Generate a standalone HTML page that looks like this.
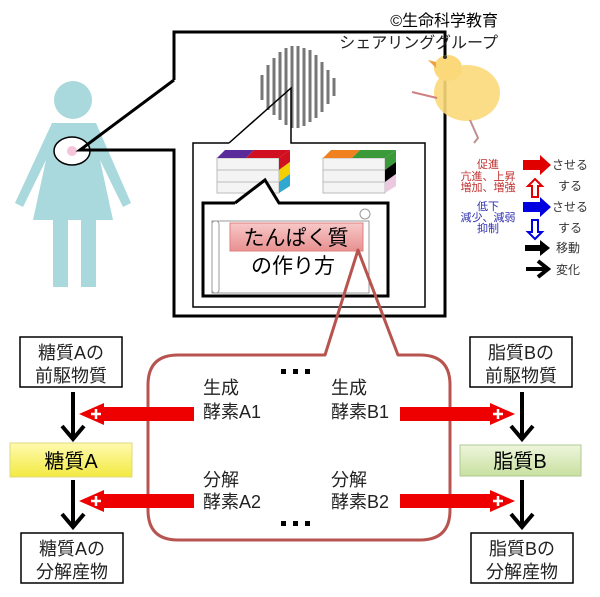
<!DOCTYPE html>
<html><head><meta charset="utf-8"><style>
html,body{margin:0;padding:0;background:#fff;}
svg{display:block;font-family:"Liberation Sans","Noto Sans CJK JP",sans-serif;}
</style></head><body>
<svg width="600" height="597" viewBox="0 0 600 597" xmlns="http://www.w3.org/2000/svg">
<defs>
<linearGradient id="yel" x1="0" y1="0" x2="0" y2="1"><stop offset="0" stop-color="#fffab0"/><stop offset="1" stop-color="#f2ea40"/></linearGradient>
<linearGradient id="grn" x1="0" y1="0" x2="0" y2="1"><stop offset="0" stop-color="#eef6dc"/><stop offset="1" stop-color="#c8e0a0"/></linearGradient>
<linearGradient id="pnk" x1="0" y1="0" x2="0" y2="1"><stop offset="0" stop-color="#f8c8c8"/><stop offset="1" stop-color="#e89090"/></linearGradient>
</defs>
<!-- person -->
<g fill="#a9d9dc">
<circle cx="73" cy="100" r="19"/>
<path d="M52 123 L96 123 L131 203 L123 207 L100 160 L113 220 L33 220 L46 160 L23 207 L15 203 Z"/>
<rect x="53" y="218" width="15" height="69"/>
<rect x="81" y="218" width="15" height="69"/>
</g>
<ellipse cx="72" cy="151" rx="18" ry="14" fill="#fff" stroke="#000" stroke-width="1.5"/>
<circle cx="72" cy="151" r="5" fill="#f4c4d8"/>
<!-- outer callout -->
<path d="M174 80 L174 32 L445 32 L445 316 L174 316 L174 150 L80 150 L174 80" fill="none" stroke="#000" stroke-width="3"/>
<!-- dna blob -->
<g stroke="#777" stroke-width="3">
<line x1="262" y1="75" x2="262" y2="100"/><line x1="268" y1="65" x2="268" y2="110"/><line x1="274" y1="58" x2="274" y2="115"/>
<line x1="280" y1="52" x2="280" y2="120"/><line x1="286" y1="48" x2="286" y2="125"/><line x1="292" y1="46" x2="292" y2="128"/>
<line x1="298" y1="46" x2="298" y2="128"/><line x1="304" y1="48" x2="304" y2="126"/><line x1="310" y1="50" x2="310" y2="122"/>
<line x1="316" y1="55" x2="316" y2="118"/><line x1="322" y1="62" x2="322" y2="112"/><line x1="328" y1="70" x2="328" y2="104"/>
<line x1="334" y1="78" x2="334" y2="96"/>
</g>
<!-- middle box -->
<path d="M229 143 L193 143 L193 307 L425 307 L425 143 L291 143 L291 88 L229 143" fill="none" stroke="#000" stroke-width="1.5"/>
<!-- books left -->
<g>
<rect x="217" y="158" width="62" height="35" fill="#f4f4f4" stroke="#bbb"/>
<line x1="217" y1="170" x2="279" y2="170" stroke="#bbb"/><line x1="217" y1="182" x2="279" y2="182" stroke="#bbb"/>
<path d="M217 158 L225 150 L254 150 L246 158 Z" fill="#5a2a9a"/>
<path d="M246 158 L254 150 L290 150 L279 158 Z" fill="#d01020"/>
<path d="M279 158 L290 150 L290 162 L279 170 Z" fill="#d01020"/>
<path d="M279 170 L290 162 L290 174 L279 182 Z" fill="#f4d000"/>
<path d="M279 182 L290 174 L290 186 L279 193 Z" fill="#30a8d0"/>
</g>
<g>
<rect x="323" y="158" width="62" height="35" fill="#f4f4f4" stroke="#bbb"/>
<line x1="323" y1="170" x2="385" y2="170" stroke="#bbb"/><line x1="323" y1="182" x2="385" y2="182" stroke="#bbb"/>
<path d="M323 158 L331 150 L360 150 L352 158 Z" fill="#f08020"/>
<path d="M352 158 L360 150 L396 150 L385 158 Z" fill="#3a9a3a"/>
<path d="M385 158 L396 150 L396 162 L385 170 Z" fill="#3a9a3a"/>
<path d="M385 170 L396 162 L396 174 L385 182 Z" fill="#000"/>
<path d="M385 182 L396 174 L396 186 L385 193 Z" fill="#ecc8e0"/>
</g>
<!-- inner box -->
<path d="M235 203 L203 203 L203 296 L388 296 L388 203 L279 203 L265 180 L235 203" fill="#fff" stroke="#000" stroke-width="3"/>
<!-- scroll -->
<rect x="212" y="221" width="157" height="72" fill="#fff" stroke="#999" stroke-width="1"/>
<rect x="212" y="221" width="7" height="72" rx="3" fill="#fff" stroke="#999"/>
<circle cx="365" cy="214" r="5" fill="#fff" stroke="#999"/>
<rect x="230" y="223" width="133" height="28" fill="url(#pnk)" stroke="#e08080"/>
<text x="296" y="245" font-size="21" text-anchor="middle">たんぱく質</text>
<text x="293" y="273" font-size="21" text-anchor="middle">の作り方</text>
<!-- copyright -->
<text x="498" y="26" font-size="16" text-anchor="end">©生命科学教育</text>
<text x="498" y="48" font-size="16" text-anchor="end" fill="#222">シェアリンググループ</text>
<!-- chick -->
<ellipse cx="467" cy="93" rx="33" ry="28" fill="#fbd97a" opacity="0.9"/>
<ellipse cx="448" cy="68" rx="14" ry="13" fill="#fbd97a"/>
<path d="M436 62 L428 60 L436 68 Z" fill="#f0a040"/>
<circle cx="445" cy="57" r="2" fill="#333"/>
<path d="M437 98 L412 92" stroke="#d08080" stroke-width="2"/>
<path d="M470 120 L478 138 L474 143" stroke="#c09090" stroke-width="2" fill="none"/>
<!-- legend -->
<g font-size="11" text-anchor="middle">
<text x="488" y="168" fill="#c03030">促進</text>
<text x="488" y="180" fill="#c03030">亢進、上昇</text>
<text x="488" y="191" fill="#c03030">増加、増強</text>
<text x="488" y="210" fill="#3030b0">低下</text>
<text x="488" y="221" fill="#3030b0">減少、減弱</text>
<text x="488" y="232" fill="#3030b0">抑制</text>
</g>
<path d="M523 160 L540 160 L540 155 L551 165 L540 175 L540 170 L523 170 Z" fill="#e00000"/>
<path d="M535 179 L542 186 L538 186 L538 197 L532 197 L532 186 L528 186 Z" fill="#fff" stroke="#e00000" stroke-width="2"/>
<path d="M523 202 L540 202 L540 197 L551 207 L540 217 L540 212 L523 212 Z" fill="#0000e0"/>
<path d="M535 239 L542 232 L538 232 L538 220 L532 220 L532 232 L528 232 Z" fill="#fff" stroke="#0000e0" stroke-width="2"/>
<path d="M525 245 L540 245 L540 240 L550 248 L540 256 L540 251 L525 251 Z" fill="#000"/>
<path d="M526 269 L548 269 M538 261 L548 269 L538 277" stroke="#000" stroke-width="4" fill="none"/>
<g font-size="12" fill="#333">
<text x="552" y="169">させる</text><text x="558" y="190">する</text>
<text x="552" y="211">させる</text><text x="558" y="232">する</text>
<text x="556" y="252">移動</text><text x="556" y="274">変化</text>
</g>
<!-- red callout -->
<path d="M325 355 L178 355 Q148 355 148 385 L148 510 Q148 540 178 540 L420 540 Q450 540 450 510 L450 385 Q450 355 420 355 L398 355 L358 250 Z" fill="none" stroke="#b85450" stroke-width="3" stroke-linejoin="round"/>
<g fill="#000"><rect x="281" y="369" width="5" height="5"/><rect x="293" y="369" width="5" height="5"/><rect x="305" y="369" width="5" height="5"/>
<rect x="281" y="521" width="5" height="5"/><rect x="293" y="521" width="5" height="5"/><rect x="305" y="521" width="5" height="5"/></g>
<g font-size="18" fill="#222">
<text x="203" y="394">生成</text><text x="203" y="418">酵素A1</text>
<text x="331" y="394">生成</text><text x="331" y="418">酵素B1</text>
<text x="203" y="486">分解</text><text x="203" y="508">酵素A2</text>
<text x="331" y="486">分解</text><text x="331" y="508">酵素B2</text>
</g>
<!-- red arrows -->
<g fill="#ee0000">
<path d="M194 407 L104 407 L104 403 L79 414 L104 425 L104 421 L194 421 Z"/>
<path d="M194 494 L104 494 L104 490 L79 501 L104 512 L104 508 L194 508 Z"/>
<path d="M400 407 L490 407 L490 403 L515 414 L490 425 L490 421 L400 421 Z"/>
<path d="M400 494 L490 494 L490 490 L515 501 L490 512 L490 508 L400 508 Z"/>
</g>
<g stroke="#fff" stroke-width="2.5">
<path d="M91 414 h10 M96 409 v10"/><path d="M91 501 h10 M96 496 v10"/>
<path d="M493 414 h10 M498 409 v10"/><path d="M493 501 h10 M498 496 v10"/>
</g>
<!-- black arrows -->
<g stroke="#000" stroke-width="4" fill="none">
<path d="M73 392 L73 438 M62 426 L73 439 L84 426"/>
<path d="M73 480 L73 526 M62 514 L73 527 L84 514"/>
<path d="M522 392 L522 438 M511 426 L522 439 L533 426"/>
<path d="M522 480 L522 526 M511 514 L522 527 L533 514"/>
</g>
<!-- boxes -->
<g stroke="#000" stroke-width="1.5" fill="#fff">
<rect x="20" y="337" width="102" height="50"/>
<rect x="21" y="533" width="102" height="50"/>
<rect x="470" y="337" width="102" height="50"/>
<rect x="471" y="533" width="102" height="50"/>
</g>
<rect x="10" y="443" width="122" height="34" fill="url(#yel)" stroke="#e0d880"/>
<rect x="460" y="445" width="121" height="31" fill="url(#grn)" stroke="#b0c890"/>
<g font-size="18" fill="#222" text-anchor="middle">
<text x="71" y="359">糖質Aの</text><text x="71" y="382">前駆物質</text>
<text x="72" y="555">糖質Aの</text><text x="72" y="578">分解産物</text>
<text x="521" y="359">脂質Bの</text><text x="521" y="382">前駆物質</text>
<text x="522" y="555">脂質Bの</text><text x="522" y="578">分解産物</text>
</g>
<text x="71" y="468" font-size="20" text-anchor="middle">糖質A</text>
<text x="520" y="468" font-size="20" text-anchor="middle">脂質B</text>
</svg>
</body></html>
